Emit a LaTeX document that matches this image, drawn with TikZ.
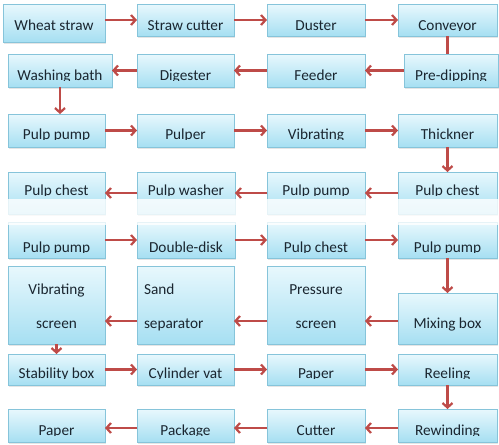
\documentclass[tikz,border=0pt]{standalone}
\usepackage{fontspec}
\setmainfont{Carlito}
\usetikzlibrary{arrows.meta,shadows}
\definecolor{arrc}{HTML}{BE4B48}
\definecolor{bdr}{HTML}{86C4DA}
\definecolor{topc}{HTML}{E8F8FD}
\definecolor{botc}{HTML}{A6DFF2}
\definecolor{txtc}{HTML}{1A2630}
\tikzset{
 box/.style={draw=bdr, line width=0.8pt, top color=topc, bottom color=botc, inner sep=0pt, outer sep=0pt,
   drop shadow={opacity=0.2, shadow xshift=1pt, shadow yshift=-1.5pt}},
 txt/.style={text=txtc, font=\fontsize{15.3}{18}\selectfont, inner sep=0pt, outer sep=0pt},
 arr/.style={draw=arrc, line width=2.2pt, -{Straight Barb[length=4.5pt,width=10pt]}},
 lin/.style={draw=arrc, line width=2.2pt},
}
\newcommand\mkbox[5]{\node[box, minimum width={#4-#2}, minimum height={#5-#3}] (#1) at ({(#2+#4)/2},{(#3+#5)/2}) {};}
\newcommand\mklab[7]{\mkbox{#1}{#2}{#3}{#4}{#5}\begin{scope}\clip (#2,#3) rectangle (#4,#7+0.4);\node[txt, anchor=base] (#1t) at ({(#2+#4)/2},#7) {#6};\end{scope}}
\begin{document}
\begin{tikzpicture}[x=1pt,y=-1pt]
\fill[white] (0,0) rectangle (499,445);
\useasboundingbox (0,0) rectangle (499,445);
% row 1
\mklab{ws}{3}{4}{105}{42}{Wheat straw}{30}
\mklab{sc}{137}{4}{234}{36}{Straw cutter}{30}
\mklab{du}{267}{4}{365}{36}{Duster}{30}
\mklab{cv}{398}{4}{497}{36}{Conveyor}{30}
% row 2
\mklab{wb}{8}{54}{112}{87}{Washing bath}{80}
\mklab{dg}{137}{54}{234}{87}{Digester}{80}
\mklab{fe}{267}{54}{365}{87}{Feeder}{80}
\mklab{pd}{404}{54}{498}{87}{Pre-dipping}{80}
% row 3
\mklab{pa}{8}{114}{105}{147}{Pulp pump}{139}
\mklab{pu}{137}{114}{234}{147}{Pulper}{139}
\mklab{vi}{267}{114}{365}{147}{Vibrating}{139}
\mklab{th}{398}{114}{497}{147}{Thickner}{139}
% row 4
\mklab{pca}{8}{172}{105}{214}{Pulp chest}{195}
\mklab{pw}{137}{172}{235}{214}{Pulp washer}{195}
\mklab{ppc}{267}{172}{365}{214}{Pulp pump}{195}
\mklab{pcd}{398}{172}{497}{214}{Pulp chest}{195}
% row 5
\mklab{ppa}{8}{222}{105}{258}{Pulp pump}{252}
\mklab{dd}{137}{222}{235}{258}{Double-disk}{252}
\mklab{pcc}{267}{222}{365}{258}{Pulp chest}{252}
\mklab{ppd}{398}{222}{497}{258}{Pulp pump}{252}
% row 6
\mkbox{vs}{8}{266}{105}{344}
\mkbox{ss}{137}{266}{234}{344}
\mkbox{ps}{267}{266}{365}{344}
\mkbox{mx}{398}{293}{497}{344}
\node[txt, anchor=base] (vs1) at (56.5,294) {Vibrating};
\node[txt, anchor=base] (vs2) at (56.5,328) {screen};
\node[txt, anchor=base west] (ss1) at (144,294) {Sand};
\node[txt, anchor=base west] (ss2) at (144,328) {separator};
\node[txt, anchor=base] (ps1) at (316,294) {Pressure};
\node[txt, anchor=base] (ps2) at (316,328) {screen};
\node[txt, anchor=base] (mx1) at (447.5,328) {Mixing box};
% row 7
\mklab{st}{8}{354}{105}{385}{Stability box}{378}
\mklab{cy}{137}{354}{234}{385}{Cylinder vat}{378}
\mklab{pp}{267}{354}{365}{385}{Paper}{378}
\mklab{re}{398}{354}{497}{385}{Reeling}{378}
% row 8
\mklab{pap}{8}{409}{105}{442}{Paper}{435}
\mklab{pk}{137}{409}{234}{442}{Package}{435}
\mklab{cu}{267}{409}{365}{442}{Cutter}{435}
\mklab{rw}{398}{409}{497}{442}{Rewinding}{435}
\coordinate (r6) at (0,321);
\coordinate (r8) at (0,428);
% arrows
\draw[arr] (ws.east|-sc.west) -- (sc.west);
\draw[arr] (sc.east) -- (du.west);
\draw[arr] (du.east) -- (cv.west);
\draw[lin] (cv.south) -- (cv.south|-pd.north);
\draw[arr] (pd.west) -- (fe.east);
\draw[arr] (fe.west) -- (dg.east);
\draw[arr] (dg.west) -- (wb.east);
\draw[arr] (wb.south) -- (wb.south|-pa.north);
\draw[arr] (pa.east) -- (pu.west);
\draw[arr] (pu.east) -- (vi.west);
\draw[arr] (vi.east) -- (th.west);
\draw[arr] (th.south) -- (th.south|-pcd.north);
\draw[arr] (pcd.west) -- (ppc.east);
\draw[arr] (ppc.west) -- (pw.east);
\draw[arr] (pw.west) -- (pca.east);
\draw[arr] (ppa.east) -- (dd.west);
\draw[arr] (dd.east) -- (pcc.west);
\draw[arr] (pcc.east) -- (ppd.west);
\draw[arr] (ppd.south) -- (ppd.south|-mx.north);
\draw[arr] (mx.west|-r6) -- (ps.east|-r6);
\draw[arr] (ps.west|-r6) -- (ss.east|-r6);
\draw[arr] (ss.west|-r6) -- (vs.east|-r6);
\draw[arr] (vs.south) -- (vs.south|-st.north);
\draw[arr] (st.east) -- (cy.west);
\draw[arr] (cy.east) -- (pp.west);
\draw[arr] (pp.east) -- (re.west);
\draw[arr] (re.south) -- (re.south|-rw.north);
\draw[arr] (rw.west|-r8) -- (cu.east|-r8);
\draw[arr] (cu.west|-r8) -- (pk.east|-r8);
\draw[arr] (pk.west|-r8) -- (pap.east|-r8);
% washed-out band
\fill[white, opacity=0.8] (0,199) rectangle (499,225);
\end{tikzpicture}
\end{document}
